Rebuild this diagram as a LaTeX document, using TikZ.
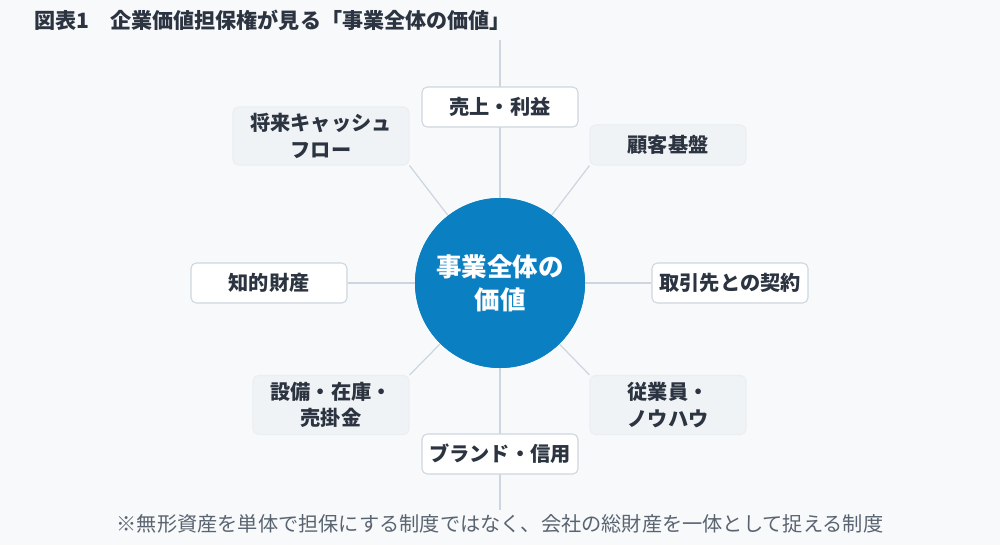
\documentclass[tikz,border=0pt]{standalone}
\usepackage{fontspec}
\setmainfont{Noto Sans CJK JP}
\definecolor{bgcol}{HTML}{F7F9FB}
\definecolor{linecol}{HTML}{CDD6DF}
\definecolor{boxgrey}{HTML}{F0F3F6}
\definecolor{hubblue}{HTML}{0A7FC2}
\definecolor{txtcol}{HTML}{2B3440}
\definecolor{notecol}{HTML}{5A6470}
\tikzset{
  itembox/.style={draw=linecol, line width=0.6pt, rounded corners=3pt, fill=white,
    minimum width=3.12cm, minimum height=0.8cm, align=center, inner xsep=2pt,
    font=\fontsize{11.5}{15}\selectfont\bfseries, text=txtcol},
  greybox/.style={itembox, fill=boxgrey, draw=boxgrey!85!linecol},
  spoke/.style={linecol, line width=0.7pt}
}
\begin{document}
\begin{tikzpicture}[x=0.02cm,y=-0.02cm]
\fill[bgcol] (0,0) rectangle (1000,545);
\useasboundingbox (0,0) rectangle (1000,545);

\node[anchor=west, font=\fontsize{12}{14}\selectfont\bfseries, text=txtcol] (title) at (28,20) {図表1\quad 企業価値担保権が見る「事業全体の価値」};

\coordinate (top) at (500,40);
\coordinate (bottom) at (500,510);
\draw[spoke] (top) -- (bottom);

\node[circle, fill=hubblue, minimum size=3.4cm, inner sep=0pt] (hub) at (500,283) {};

% surrounding items
\node[itembox] (sales) at (500,107) {売上・利益};
\node[greybox, minimum width=3.52cm, minimum height=1.16cm] (cash) at (321,136) {将来キャッシュ\\フロー};
\node[greybox] (client) at (668,145) {顧客基盤};
\node[itembox] (ip) at (269,283) {知的財産};
\node[itembox] (deal) at (730,283) {取引先との契約};
\node[greybox, minimum height=1.18cm] (asset) at (331,405) {設備・在庫・\\売掛金};
\node[greybox, minimum height=1.18cm] (staff) at (668,405) {従業員・\\ノウハウ};
\node[itembox] (brand) at (500,454) {ブランド・信用};

\draw[spoke] (hub) -- (ip);
\draw[spoke] (hub) -- (deal);
\draw[spoke] (hub) -- (cash.south east);
\draw[spoke] (hub) -- (client.south west);
\draw[spoke] (hub) -- (asset.north east);
\draw[spoke] (hub) -- (staff.north west);

\fill[hubblue] (hub) circle (85);
\node[font=\fontsize{14.5}{19}\selectfont\bfseries, text=white, align=center] (hubtext) at (hub) {事業全体の\\価値};

\node[font=\fontsize{11.5}{14}\selectfont, text=notecol] (note) at (500,524) {※無形資産を単体で担保にする制度ではなく、会社の総財産を一体として捉える制度};
\end{tikzpicture}
\end{document}
